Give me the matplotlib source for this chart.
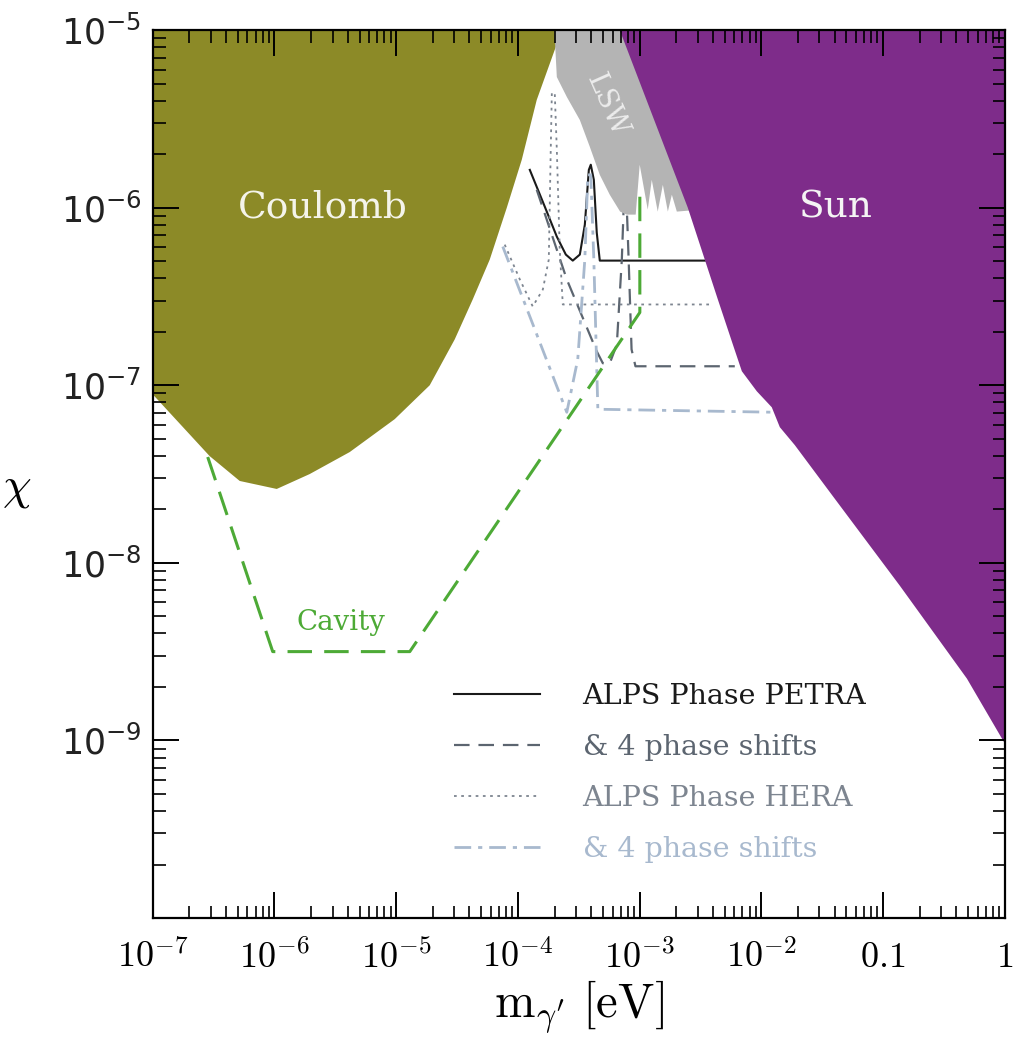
import numpy as np
import matplotlib
matplotlib.use('Agg')
import matplotlib.pyplot as plt
from matplotlib.ticker import FixedLocator, LogLocator, NullFormatter

plt.rcParams['mathtext.fontset'] = 'cm'
plt.rcParams['font.family'] = ['DejaVu Serif']

# --- data: log10(m [eV]) and log10(chi) ---
# Coulomb exclusion boundary (left to right)
coulomb_lm = np.array([-7.0, -6.532, -6.285, -5.981, -5.710, -5.381, -5.012, -4.724,
                       -4.519, -4.371, -4.231, -4.091, -3.968, -3.845, -3.639])
coulomb_lc = np.array([-7.051, -7.399, -7.539, -7.584, -7.5, -7.376, -7.191, -7.0,
                       -6.742, -6.517, -6.292, -6.0, -5.730, -5.393, -5.0])

# Sun exclusion boundary (top to bottom)
sun_lm = np.array([-3.163, -2.604, -2.357, -2.234, -2.160, -2.037, -1.914, -1.848,
                   -1.725, -1.413, -0.862, -0.311, 0.0])
sun_lc = np.array([-5.0, -6.0, -6.517, -6.770, -6.921, -7.034, -7.124, -7.236,
                   -7.337, -7.624, -8.129, -8.652, -9.017])

# light-shining-through-wall region (lower edge, serrated)
lsw_lm = np.array([-3.70, -2.505, -2.505, -2.694, -2.735, -2.768, -2.809, -2.851,
                   -2.900, -2.933, -2.999, -3.032, -3.105, -3.16, -3.245, -3.327,
                   -3.409, -3.491, -3.598, -3.68])
lsw_lc = np.array([-5.0, -5.0, -6.011, -6.022, -5.927, -6.022, -5.871, -6.022,
                   -5.843, -6.011, -5.758, -6.039, -6.039, -6.022, -5.927, -5.815,
                   -5.657, -5.506, -5.376, -5.264])

# ALPS phase PETRA
petra_lm = np.array([-3.902, -3.779, -3.680, -3.606, -3.549, -3.491, -3.450, -3.417,
                     -3.401, -3.376, -3.352, -3.327, -2.464])
petra_lc = np.array([-5.787, -5.994, -6.163, -6.264, -6.298, -6.264, -6.096, -5.787,
                     -5.758, -5.843, -6.140, -6.298, -6.298])

# ALPS phase PETRA & 4 phase shifts
petra4_lm = np.array([-3.845, -3.598, -3.352, -3.302, -3.245, -3.187, -3.146, -3.130,
                      -3.106, -3.090, -3.066, -3.034, -2.218])
petra4_lc = np.array([-5.899, -6.404, -6.809, -6.876, -6.876, -6.770, -6.292, -5.983,
                      -5.983, -6.292, -6.798, -6.893, -6.893])

# ALPS phase HERA
hera_lm = np.array([-4.108, -3.984, -3.878, -3.795, -3.746, -3.730, -3.721, -3.697,
                    -3.680, -3.656, -3.631, -2.407])
hera_lc = np.array([-6.208, -6.404, -6.556, -6.461, -6.292, -5.674, -5.354, -5.354,
                    -5.674, -6.236, -6.545, -6.545])

# ALPS phase HERA & 4 phase shifts
hera4_lm = np.array([-4.124, -3.861, -3.598, -3.508, -3.450, -3.425, -3.401, -3.376,
                     -3.343, -1.889])
hera4_lc = np.array([-6.219, -6.685, -7.152, -6.854, -6.292, -5.815, -5.815, -6.292,
                     -7.135, -7.152])

# microwave cavity
cavity_lm = np.array([-6.548, -6.014, -4.888, -2.998, -2.998])
cavity_lc = np.array([-7.404, -8.5, -8.5, -6.590, -5.927])

x_ticks = [1e-7, 1e-6, 1e-5, 1e-4, 1e-3, 1e-2, 0.1, 1]
x_ticklabels = [r'$10^{-7}$', r'$10^{-6}$', r'$10^{-5}$', r'$10^{-4}$',
                r'$10^{-3}$', r'$10^{-2}$', r'$0.1$', r'$1$']
y_ticks = [1e-9, 1e-8, 1e-7, 1e-6, 1e-5]
y_ticklabels = [r'$10^{-9}$', r'$10^{-8}$', r'$10^{-7}$', r'$10^{-6}$', r'$10^{-5}$']

legend_labels = ['ALPS Phase PETRA', '& 4 phase shifts', 'ALPS Phase HERA', '& 4 phase shifts']
legend_colors = ['#1a1a1a', '#5c6570', '#7d8590', '#a8b9ce']

# --- figure ---
fig = plt.figure(figsize=(10.18, 10.39), dpi=100)
ax = fig.add_axes([0.150, 0.1165, 0.837, 0.8545])
ax.set_xscale('log')
ax.set_yscale('log')
ax.set_xlim(1e-7, 1)
ax.set_ylim(1e-10, 1e-5)

# filled regions
ax.fill(10 ** np.r_[-7.0, coulomb_lm], 10 ** np.r_[-5.0, coulomb_lc],
        color='#8c8a27', lw=0, zorder=3)
ax.fill(10 ** lsw_lm, 10 ** lsw_lc, color='#b4b4b4', lw=0, zorder=3)
ax.fill(10 ** np.r_[sun_lm, 0.0], 10 ** np.r_[sun_lc, -5.0],
        color='#7e2c8a', lw=0, zorder=4)

# sensitivity lines
ax.plot(10 ** petra_lm, 10 ** petra_lc, color=legend_colors[0], lw=1.5, zorder=2,
        label=legend_labels[0])
ax.plot(10 ** petra4_lm, 10 ** petra4_lc, color=legend_colors[1], lw=1.6, zorder=2,
        dashes=(7, 4), label=legend_labels[1])
ax.plot(10 ** hera_lm, 10 ** hera_lc, color=legend_colors[2], lw=1.3, zorder=2,
        dashes=(1.5, 2.5), label=legend_labels[2])
ax.plot(10 ** hera4_lm, 10 ** hera4_lc, color=legend_colors[3], lw=2.0, zorder=2,
        dashes=(6, 2.5, 1.5, 2.5), label=legend_labels[3])
ax.plot(10 ** cavity_lm, 10 ** cavity_lc, color='#4daa36', lw=2.2, zorder=2,
        dashes=(8, 4))

# region labels
ax.text(10 ** -5.6, 1e-6, 'Coulomb', color='#f4f4ea', fontsize=27,
        ha='center', va='center', zorder=6)
ax.text(10 ** -1.388, 1e-6, 'Sun', color='#f4f4f4', fontsize=27,
        ha='center', va='center', zorder=6)
ax.text(10 ** -5.455, 10 ** -8.337, 'Cavity', color='#4daa36', fontsize=20,
        ha='center', va='center', zorder=6)
ax.text(10 ** -3.27, 10 ** -5.42, 'LSW', color='#ececec', fontsize=20,
        ha='center', va='center', rotation=-66, zorder=6)

# axes style
for s in ax.spines.values():
    s.set_linewidth(1.6)
    s.set_zorder(7)
ax.xaxis.set_major_locator(FixedLocator(x_ticks))
ax.set_xticklabels(x_ticklabels)
ax.yaxis.set_major_locator(FixedLocator(y_ticks))
ax.set_yticklabels(y_ticklabels)
ax.xaxis.set_minor_locator(LogLocator(base=10, subs=np.arange(2, 10), numticks=20))
ax.yaxis.set_minor_locator(LogLocator(base=10, subs=np.arange(2, 10), numticks=20))
ax.xaxis.set_minor_formatter(NullFormatter())
ax.yaxis.set_minor_formatter(NullFormatter())
ax.tick_params(which='both', direction='in', top=True, right=True)
ax.tick_params(which='major', length=19, width=1.4, labelsize=26)
ax.tick_params(which='minor', length=9, width=1.2)
ax.tick_params(axis='x', which='major', pad=16)
ax.tick_params(axis='y', which='major', pad=8, labelsize=25)
for lbl in ax.get_yticklabels():
    lbl.set_math_fontfamily('dejavusans')
    lbl.set_color('#222222')
ax.xaxis.set_zorder(10)
ax.yaxis.set_zorder(10)

ax.set_xlabel(r"$\mathrm{m}_{\gamma^{\prime}}\ [\mathrm{eV}]$", fontsize=35, labelpad=2)
ax.set_ylabel(r'$\chi$', fontsize=33, rotation=0)
ax.yaxis.set_label_coords(-0.16, 0.46)

leg = ax.legend(loc='upper left', bbox_to_anchor=(0.324, 0.294), frameon=False,
                fontsize=20.5, handlelength=3.0, handletextpad=1.5, labelspacing=0.85)
for t, c in zip(leg.get_texts(), legend_colors):
    t.set_color(c)
leg.set_zorder(8)

fig.savefig('out.png', dpi=100)
